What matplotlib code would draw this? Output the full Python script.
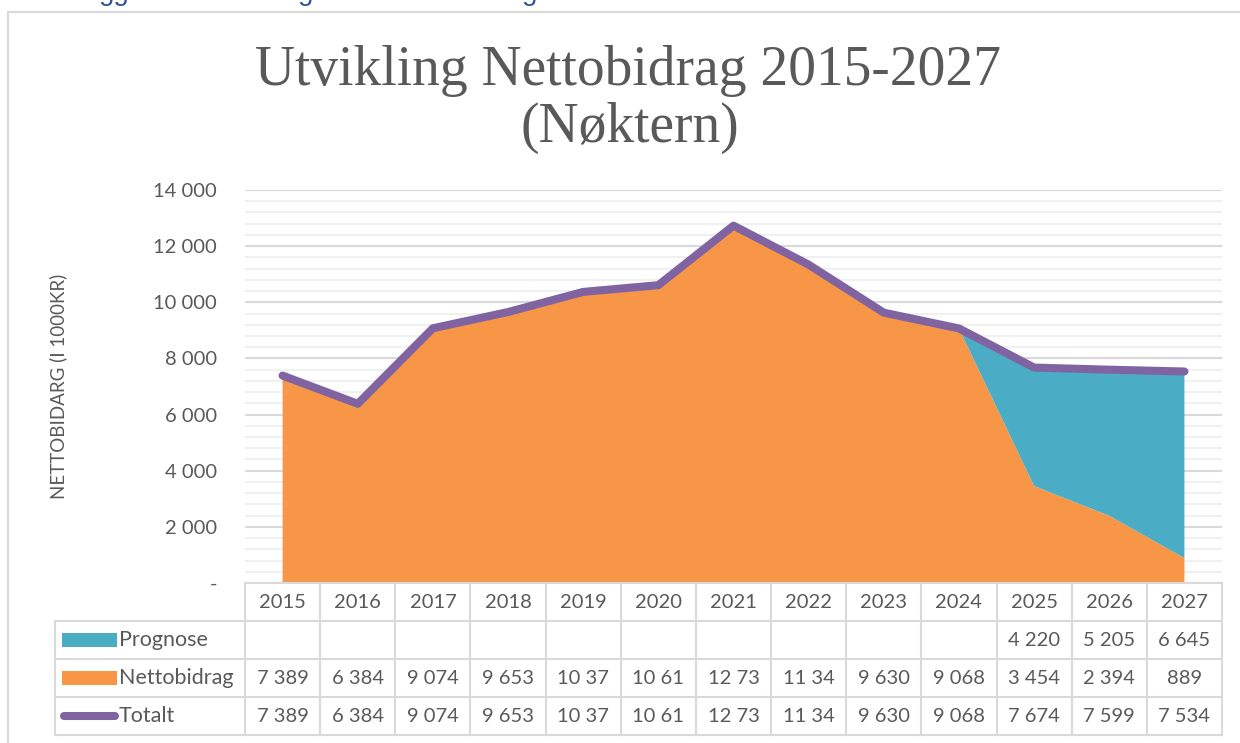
import matplotlib
matplotlib.use("Agg")
import matplotlib.pyplot as plt
from matplotlib.patches import Rectangle
from matplotlib.lines import Line2D
import numpy as np

years = ["2015", "2016", "2017", "2018", "2019", "2020", "2021",
         "2022", "2023", "2024", "2025", "2026", "2027"]
nettobidrag = [7389, 6384, 9074, 9653, 10370, 10610, 12730, 11340, 9630, 9068, 3454, 2394, 889]
prognose = [0, 0, 0, 0, 0, 0, 0, 0, 0, 0, 4220, 5205, 6645]
totalt = [7389, 6384, 9074, 9653, 10370, 10610, 12730, 11340, 9630, 9068, 7674, 7599, 7534]
# labels as printed in the (truncated) data table
prognose_lbl = ["", "", "", "", "", "", "", "", "", "", "4 220", "5 205", "6 645"]
netto_lbl = ["7 389", "6 384", "9 074", "9 653", "10 37", "10 61", "12 73", "11 34",
             "9 630", "9 068", "3 454", "2 394", "889"]
totalt_lbl = ["7 389", "6 384", "9 074", "9 653", "10 37", "10 61", "12 73", "11 34",
              "9 630", "9 068", "7 674", "7 599", "7 534"]
yticks = [0, 2000, 4000, 6000, 8000, 10000, 12000, 14000]
ytick_lbl = ["-", "2 000", "4 000", "6 000", "8 000", "10 000", "12 000", "14 000"]

ORANGE = "#F79646"
TEAL = "#4BACC6"
PURPLE = "#8064A2"
TXT = "#595959"
GRID = "#D9D9D9"
MINOR = "#F0F0F0"
FONT = "Lato"

W, H = 1240, 743
fig = plt.figure(figsize=(W / 100, H / 100), dpi=100)

def fx(px):
    return px / W

def fy(py):
    return 1 - py / H

# chart frame
fig.patches.append(Rectangle((fx(8), -0.1), 1.2, fy(12) + 0.1, transform=fig.transFigure,
                             fill=False, edgecolor=GRID, lw=1.5, zorder=0))
# cut-off text above the chart (only descenders visible in the reference)
for xp, s in [(99, "gg"), (298, "g"), (522, "g")]:
    fig.text(fx(xp), fy(0), s, color="#2F5496", fontsize=20, family="Liberation Sans",
             va="baseline", ha="left")

left, right, top, bottom = 245, 1222, 190, 583
ax = fig.add_axes([fx(left), fy(bottom), fx(right - left), (bottom - top) / H])
x = np.arange(len(years))
ax.stackplot(x, nettobidrag, prognose, colors=[ORANGE, TEAL], lw=0, zorder=2)
ax.plot(x, totalt, color=PURPLE, lw=5.8, solid_capstyle="round", solid_joinstyle="round",
        zorder=3, clip_on=False)
ax.set_xlim(-0.5, len(years) - 0.5)
ax.set_ylim(0, 14000)
ax.set_yticks(yticks)
ax.set_yticklabels(ytick_lbl)
ax.set_yticks(np.arange(0, 14001, 400), minor=True)
ax.tick_params(axis="y", which="both", length=0, pad=20, labelsize=14.5, labelcolor=TXT)
for lbl in ax.get_yticklabels():
    lbl.set_family(FONT)
ax.set_xticks([])
ax.grid(axis="y", which="major", color=GRID, lw=1.5, zorder=1)
ax.grid(axis="y", which="minor", color=MINOR, lw=1.5, zorder=0.5)
ax.set_axisbelow(True)
for s in ax.spines.values():
    s.set_visible(False)
ax.set_ylabel("NETTOBIDARG (I 1000KR)", fontsize=13.5, color=TXT, family=FONT, labelpad=62)

fig.text(fx(628), fy(85), "Utvikling Nettobidrag 2015-2027", ha="center",
         va="baseline", fontsize=40, color=TXT, family="Liberation Serif")
fig.text(fx(630), fy(142), "(Nøktern)", ha="center",
         va="baseline", fontsize=40, color=TXT, family="Liberation Serif")

# data table
colw = (right - left) / len(years)
lab_left = 55
tb_bottom = 735
tax = fig.add_axes([fx(lab_left), fy(tb_bottom), fx(right - lab_left), (tb_bottom - bottom) / H])
x0 = -0.5 - (left - lab_left) / colw
tax.set_xlim(x0, len(years) - 0.5)
tax.set_ylim(0, 4)
tax.axis("off")
lw = 1.5
for k in range(len(years) + 1):
    tax.plot([k - 0.5, k - 0.5], [0, 4], color=GRID, lw=lw, clip_on=False)
tax.plot([x0, x0], [0, 3], color=GRID, lw=lw, clip_on=False)
tax.plot([-0.5, len(years) - 0.5], [4, 4], color=GRID, lw=lw, clip_on=False)
for yy in [3, 2, 1, 0]:
    tax.plot([x0, len(years) - 0.5], [yy, yy], color=GRID, lw=lw, clip_on=False)

rows = [(3.5, years), (2.5, prognose_lbl), (1.5, netto_lbl), (0.5, totalt_lbl)]
for yy, labels in rows:
    for i, t in enumerate(labels):
        tax.text(i, yy, t, ha="center", va="center", fontsize=14.5, color=TXT, family=FONT)

kx0 = x0 + 7 / colw
kx1 = x0 + 62 / colw
kh = 14 / 38
tax.add_patch(Rectangle((kx0, 2.5 - kh / 2), kx1 - kx0, kh, color=TEAL, lw=0))
tax.add_patch(Rectangle((kx0, 1.5 - kh / 2), kx1 - kx0, kh, color=ORANGE, lw=0))
tax.add_line(Line2D([kx0 + 0.03, kx1 - 0.03], [0.5, 0.5], color=PURPLE, lw=5.8,
                    solid_capstyle="round"))
for yy, t in [(2.5, "Prognose"), (1.5, "Nettobidrag"), (0.5, "Totalt")]:
    tax.text(kx1 + 0.02, yy, t, ha="left", va="center", fontsize=15.5, color=TXT, family=FONT)

fig.savefig("out.png", dpi=100, facecolor="white")
